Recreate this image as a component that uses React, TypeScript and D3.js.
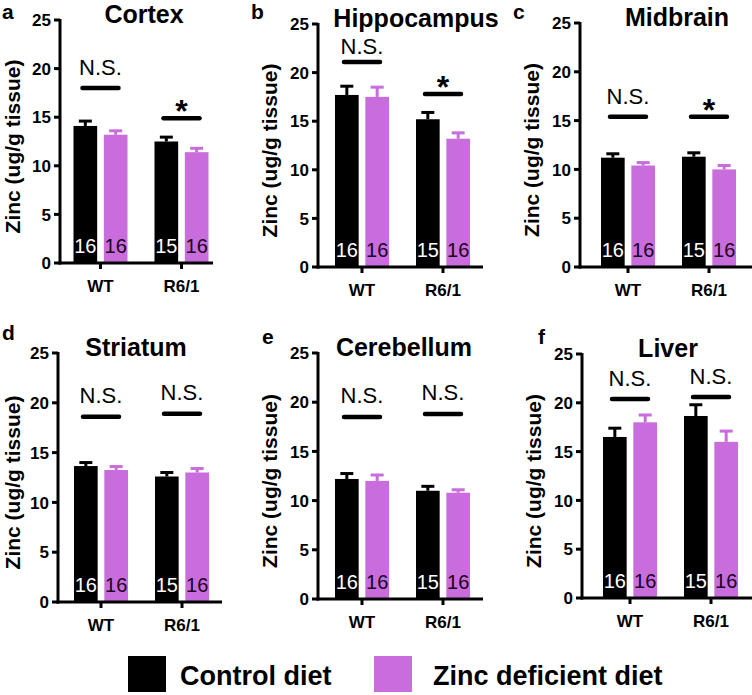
import React from "react";
import * as d3 from "d3";

// ---------- data ----------
const regions = ["Cortex", "Hippocampus", "Midbrain", "Striatum", "Cerebellum", "Liver"];
const panelLetters = ["a", "b", "c", "d", "e", "f"];
const genotypes = ["WT", "R6/1"];
const diets = ["Control diet", "Zinc deficient diet"];

const controlMeans = [[14.1, 12.5], [17.7, 15.2], [11.2, 11.3], [13.65, 12.6], [12.2, 11.0], [16.5, 18.65]];
const controlSEM = [[0.5, 0.45], [0.9, 0.7], [0.4, 0.4], [0.35, 0.4], [0.55, 0.45], [0.9, 1.15]];
const zincMeans = [[13.2, 11.4], [17.5, 13.2], [10.4, 10.0], [13.25, 13.0], [12.0, 10.8], [18.0, 16.0]];
const zincSEM = [[0.4, 0.4], [1.0, 0.6], [0.3, 0.4], [0.35, 0.4], [0.6, 0.3], [0.75, 1.1]];

const nControl = [16, 15];
const nZinc = [16, 16];

const sigLabels = [["N.S.", "*"], ["N.S.", "*"], ["N.S.", "*"], ["N.S.", "N.S."], ["N.S.", "N.S."], ["N.S.", "N.S."]];
const sigLevels = [[18.0, 14.9], [21.1, 17.8], [15.4, 15.4], [18.6, 18.9], [18.5, 18.8], [20.4, 20.6]];

const yTicks = [0, 5, 10, 15, 20, 25];
const yLabel = "Zinc (ug/g tissue)";

// ---------- layout ----------
const W = 752;
const H = 695;
const FONT = "'Liberation Sans', Arial, Helvetica, sans-serif";
const BLACK = "#000000";
const PINK = "#c86ddb";

const layouts = [
  { axisX: 60, y0: 263, y25: 20, g0: 40.5, axisLen: 153, lx: 2, ly: 19, tx: 144, nsGap: 13 },
  { axisX: 318, y0: 267, y25: 24, g0: 44, axisLen: 165, lx: 251, ly: 19, tx: 416, nsGap: 8 },
  { axisX: 580, y0: 267, y25: 23, g0: 48, axisLen: 175, lx: 513, ly: 19, tx: 677, nsGap: 13 },
  { axisX: 58, y0: 602, y25: 353, g0: 43, axisLen: 164, lx: 2, ly: 340, tx: 136, nsGap: 14 },
  { axisX: 318, y0: 599, y25: 353, g0: 44, axisLen: 165, lx: 262, ly: 344, tx: 404, nsGap: 14 },
  { axisX: 582, y0: 598, y25: 354, g0: 48, axisLen: 175, lx: 538, ly: 344, tx: 668, nsGap: 13 },
];

const inner = d3.scaleBand<string>().domain(["control", "zinc"]).range([-27, 27]).paddingInner(0.22);

function Panel({ i }: { i: number }) {
  const L = layouts[i];
  const y = d3.scaleLinear().domain([0, 25]).range([L.y0, L.y25]);
  const x = d3.scalePoint<string>().domain(genotypes).range([L.axisX + L.g0, L.axisX + L.g0 + 81]);
  const bw = inner.bandwidth();
  const labelX = Math.max(L.axisX - 41, 19.5);

  const series = [
    { key: "control", means: controlMeans[i], sems: controlSEM[i], color: BLACK, ns: nControl, txt: "#ffffff" },
    { key: "zinc", means: zincMeans[i], sems: zincSEM[i], color: PINK, ns: nZinc, txt: "#1a001f" },
  ];

  return (
    <g>
      {/* letter */}
      <text x={L.lx} y={L.ly} fontFamily={FONT} fontWeight="bold" fontSize={21}>{panelLetters[i]}</text>
      {/* title */}
      <text x={L.tx} y={L.y25 + 3} textAnchor="middle" fontFamily={FONT} fontWeight="bold" fontSize={25}>{regions[i]}</text>
      {/* y label */}
      <text
        transform={`translate(${labelX},${(L.y0 + L.y25) / 2 + 5}) rotate(-90)`}
        textAnchor="middle"
        fontFamily={FONT}
        fontWeight="bold"
        fontSize={21}
      >
        {yLabel}
      </text>

      {/* bars */}
      {series.map((s) =>
        genotypes.map((g, gi) => {
          const bx = x(g)! + inner(s.key)!;
          const cx = bx + bw / 2;
          const top = y(s.means[gi]);
          const et = y(s.means[gi] + s.sems[gi]);
          return (
            <g key={s.key + g}>
              <line x1={cx} x2={cx} y1={top} y2={et} stroke={s.color} strokeWidth={3} />
              <line x1={cx - 6.5} x2={cx + 6.5} y1={et} y2={et} stroke={s.color} strokeWidth={3} />
              <rect x={bx} y={top} width={bw} height={L.y0 - top} fill={s.color} />
              <text x={cx} y={L.y0 - 10.5} textAnchor="middle" fontFamily={FONT} fontSize={20} fill={s.txt}>
                {s.ns[gi]}
              </text>
            </g>
          );
        })
      )}

      {/* axes */}
      <line x1={L.axisX} x2={L.axisX} y1={L.y25 - 1} y2={L.y0 + 1.5} stroke="#000" strokeWidth={3} />
      <line x1={L.axisX - 1.5} x2={L.axisX + L.axisLen} y1={L.y0} y2={L.y0} stroke="#000" strokeWidth={3} />
      {yTicks.map((t) => (
        <g key={t}>
          <line x1={L.axisX - 6} x2={L.axisX} y1={y(t)} y2={y(t)} stroke="#000" strokeWidth={3} />
          <text x={L.axisX - 9} y={y(t)} dy="0.36em" textAnchor="end" fontFamily={FONT} fontWeight="bold" fontSize={17}>
            {t}
          </text>
        </g>
      ))}
      {genotypes.map((g) => (
        <g key={g}>
          <line x1={x(g)!} x2={x(g)!} y1={L.y0} y2={L.y0 + 6} stroke="#000" strokeWidth={3} />
          <text x={x(g)!} y={L.y0 + 29} textAnchor="middle" fontFamily={FONT} fontWeight="bold" fontSize={17}>
            {g}
          </text>
        </g>
      ))}

      {/* significance */}
      {genotypes.map((g, gi) => {
        const ly = y(sigLevels[i][gi]);
        const cx = x(g)!;
        const lab = sigLabels[i][gi];
        return (
          <g key={"sig" + g}>
            <line x1={cx - 18} x2={cx + 18} y1={ly} y2={ly} stroke="#000" strokeWidth={4.5} strokeLinecap="round" />
            {lab === "*" ? (
              <text x={cx} y={ly + 4} textAnchor="middle" fontFamily={FONT} fontWeight="bold" fontSize={32}>*</text>
            ) : (
              <text x={cx} y={ly - L.nsGap} textAnchor="middle" fontFamily={FONT} fontSize={22}>{lab}</text>
            )}
          </g>
        );
      })}
    </g>
  );
}

export default function App() {
  const legendItems = [
    { label: diets[0], color: BLACK, rx: 128, tx: 180 },
    { label: diets[1], color: PINK, rx: 374, tx: 433 },
  ];
  return (
    <svg width={W} height={H} viewBox={`0 0 ${W} ${H}`} style={{ position: "absolute", left: 0, top: 0, background: "#fff" }}>
      <rect width={W} height={H} fill="#fff" />
      {regions.map((_, i) => (
        <Panel key={i} i={i} />
      ))}
      {legendItems.map((d) => (
        <g key={d.label}>
          <rect x={d.rx} y={656} width={38} height={36} fill={d.color} />
          <text x={d.tx} y={685} fontFamily={FONT} fontWeight="bold" fontSize={27}>{d.label}</text>
        </g>
      ))}
    </svg>
  );
}
